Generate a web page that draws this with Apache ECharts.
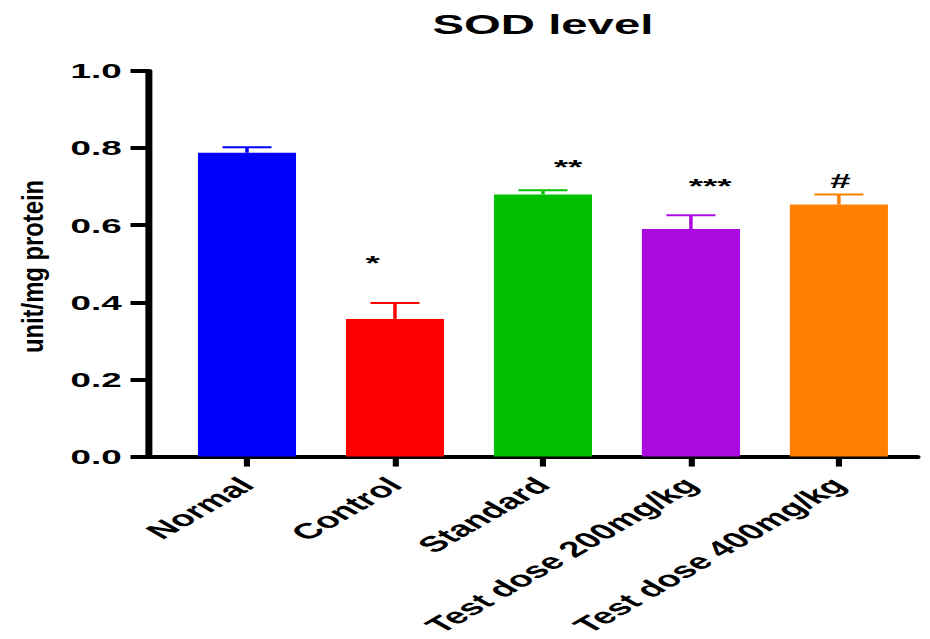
<!DOCTYPE html>
<html>
<head>
<meta charset="utf-8">
<title>SOD level</title>
<script src="https://cdn.jsdelivr.net/npm/echarts@6/dist/echarts.min.js"></script>
<style>
  html, body { margin: 0; padding: 0; background: #fff; overflow: hidden; }
  /* The figure is drawn at a narrower width and widened horizontally,
     which gives its text and strokes the broad, stretched look. */
  #chart {
    width: 531px;
    height: 639px;
    transform: scaleX(1.7514);
    transform-origin: 0 0;
  }
</style>
</head>
<body>
<div id="chart"></div>
<script>
// Groups, mean SOD level and SEM (unit/mg protein)
const categories = ['Normal', 'Control', 'Standard', 'Test dose 200mg/kg', 'Test dose 400mg/kg'];
const meanValues = [0.788, 0.357, 0.680, 0.590, 0.654];
const semValues  = [0.014, 0.041, 0.011, 0.036, 0.026];
const barColors  = ['#0000FF', '#FF0000', '#00C000', '#AA0ADF', '#FF8000'];

// Significance marks, placed in data units (group index, value)
const markTexts = ['*', '**', '***', '#'];
const markX     = [0.85, 2.17, 3.13, 4.01];
const markY     = [0.503, 0.752, 0.703, 0.716];

// Y axis ticks
const yTicks = [0, 0.2, 0.4, 0.6, 0.8, 1.0];

const FONT = '"Liberation Sans", Arial, Helvetica, sans-serif';
const chart = echarts.init(document.getElementById('chart'), null, { renderer: 'svg' });

const catIndex = categories.map((_, i) => i);

const option = {
  backgroundColor: '#ffffff',
  animation: false,
  title: {
    text: 'SOD level',
    left: 305,
    top: 6,
    textAlign: 'center',
    textStyle: { fontFamily: FONT, fontWeight: 'bold', fontSize: 27, color: '#000' }
  },
  graphic: [{
    type: 'text',
    x: 19.1,
    y: 266.5,
    rotation: Math.PI / 2,
    scaleX: 1.40,
    style: {
      text: 'unit/mg protein',
      fontFamily: FONT,
      fontWeight: 'bold',
      fontSize: 17,
      fill: '#000',
      textAlign: 'center',
      textVerticalAlign: 'middle'
    }
  }],
  grid: { left: 84.5, right: 7.4, top: 71, bottom: 180, containLabel: false },
  xAxis: {
    type: 'value',
    min: -0.669,
    max: 4.528,
    splitLine: { show: false },
    axisLine: { show: true, onZero: false, lineStyle: { color: '#000', width: 4 } },
    axisTick: { show: true, customValues: catIndex, length: 10, lineStyle: { color: '#000', width: 3.5 } },
    axisLabel: {
      show: true,
      customValues: catIndex,
      formatter: v => categories[Math.round(v)] || '',
      rotate: 45,
      margin: 25,
      fontFamily: FONT,
      fontWeight: 'bold',
      fontSize: 22,
      color: '#000'
    }
  },
  yAxis: {
    type: 'value',
    min: 0,
    max: 1,
    interval: 0.2,
    splitLine: { show: false },
    axisLine: { show: true, onZero: false, lineStyle: { color: '#000', width: 4 } },
    axisTick: { show: true, length: 10, lineStyle: { color: '#000', width: 4 } },
    axisLabel: {
      margin: 15,
      fontFamily: FONT,
      fontWeight: 'bold',
      fontSize: 21,
      color: '#000',
      formatter: v => {
        const t = yTicks.find(k => Math.abs(k - v) < 1e-9);
        return (t !== undefined ? t : v).toFixed(1);
      }
    }
  },
  series: [
    {
      type: 'bar',
      barWidth: 56,
      data: meanValues.map((v, i) => ({
        value: [i, v],
        itemStyle: { color: barColors[i] }
      })),
      z: 2
    },
    {
      // upper SEM whisker with cap
      type: 'custom',
      data: meanValues.map((v, i) => [i, v, v + semValues[i]]),
      renderItem: (params, api) => {
        const i = api.value(0);
        const base = api.coord([i, api.value(1)]);
        const top = api.coord([i, api.value(2)]);
        const color = barColors[params.dataIndex];
        const half = 14;
        return {
          type: 'group',
          children: [
            { type: 'line', shape: { x1: base[0], y1: base[1], x2: top[0], y2: top[1] },
              style: { stroke: color, lineWidth: 2 } },
            { type: 'line', shape: { x1: top[0] - half, y1: top[1], x2: top[0] + half, y2: top[1] },
              style: { stroke: color, lineWidth: 2 } }
          ]
        };
      },
      z: 3
    },
    {
      // significance marks
      type: 'custom',
      data: markTexts.map((t, k) => [markX[k], markY[k]]),
      renderItem: (params, api) => {
        const p = api.coord([api.value(0), api.value(1)]);
        return {
          type: 'text',
          x: p[0],
          y: p[1],
          style: {
            text: markTexts[params.dataIndex],
            fontFamily: FONT,
            fontWeight: 'bold',
            fontSize: 21,
            fill: '#000',
            textAlign: 'center',
            textVerticalAlign: 'middle'
          }
        };
      },
      z: 4
    }
  ]
};

chart.setOption(option);
</script>
</body>
</html>
